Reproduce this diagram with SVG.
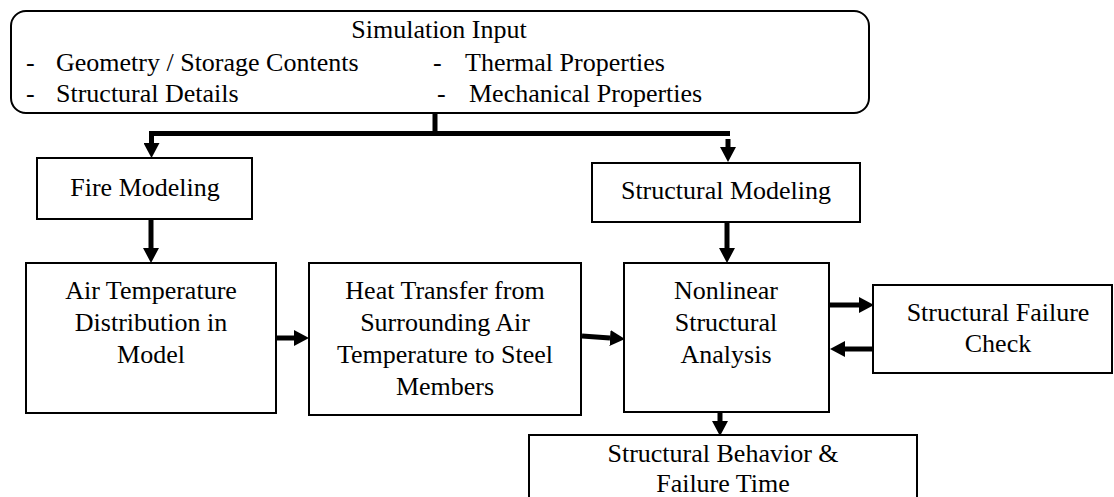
<svg xmlns="http://www.w3.org/2000/svg" width="1114" height="497" viewBox="0 0 1114 497">
<style>
.box{fill:#fff;stroke:#000;stroke-width:2}
.t{font-family:'Liberation Serif','DejaVu Serif',serif;font-size:26px;fill:#000}
.c{text-anchor:middle}
.conn{fill:none;stroke:#000;stroke-width:5}
</style>
<defs>
<marker id="ah" markerUnits="userSpaceOnUse" markerWidth="15" markerHeight="16" refX="0" refY="8" orient="auto" viewBox="0 0 15 16">
<path d="M0,0 L15,8 L0,16 z" fill="#000"/>
</marker>
</defs>
<rect width="1114" height="497" fill="#fff"/>
<g id="input" font-family="Liberation Serif, serif">
<rect class="box" x="11" y="11" width="858" height="102" rx="15" ry="15"/>
<text class="t c" x="439" y="38">Simulation Input</text>
<text class="t" x="26" y="71">-</text>
<text class="t" x="56" y="71">Geometry / Storage Contents</text>
<text class="t" x="433" y="71">-</text>
<text class="t" x="465" y="71">Thermal Properties</text>
<text class="t" x="26" y="102">-</text>
<text class="t" x="56" y="102">Structural Details</text>
<text class="t" x="437" y="102">-</text>
<text class="t" x="469" y="102">Mechanical Properties</text>
</g>
<g id="fire">
<rect class="box" x="37" y="158" width="215" height="61"/>
<text class="t c" x="145" y="196">Fire Modeling</text>
</g>
<g id="structmodel">
<rect class="box" x="592" y="163" width="268" height="59"/>
<text class="t c" x="726" y="199">Structural Modeling</text>
</g>
<g id="airtemp">
<rect class="box" x="26" y="263" width="250" height="150"/>
<text class="t c" x="151" y="299">Air Temperature</text>
<text class="t c" x="151" y="331">Distribution in</text>
<text class="t c" x="151" y="363">Model</text>
</g>
<g id="heat">
<rect class="box" x="309" y="263" width="272" height="152"/>
<text class="t c" x="445" y="299">Heat Transfer from</text>
<text class="t c" x="445" y="331">Surrounding Air</text>
<text class="t c" x="445" y="363">Temperature to Steel</text>
<text class="t c" x="445" y="395">Members</text>
</g>
<g id="nonlinear">
<rect class="box" x="624" y="263" width="205" height="149"/>
<text class="t c" x="726" y="299">Nonlinear</text>
<text class="t c" x="726" y="331">Structural</text>
<text class="t c" x="726" y="363">Analysis</text>
</g>
<g id="failurecheck">
<rect class="box" x="873" y="285" width="239" height="88"/>
<text class="t c" x="998" y="321">Structural Failure</text>
<text class="t c" x="998" y="352">Check</text>
</g>
<g id="behavior">
<rect class="box" x="529" y="435" width="388" height="80"/>
<text class="t c" x="723" y="462">Structural Behavior &amp;</text>
<text class="t c" x="723" y="492">Failure Time</text>
</g>
<g id="connectors">
<path class="conn" d="M435,113 V133.5"/>
<path class="conn" d="M730,133.5 H151.5 V143" marker-end="url(#ah)"/>
<path class="conn" d="M728,139 V147" marker-end="url(#ah)"/>
<path class="conn" d="M151,219 V248" marker-end="url(#ah)"/>
<path class="conn" d="M727,222 V248" marker-end="url(#ah)"/>
<path class="conn" d="M276,338 H294" marker-end="url(#ah)"/>
<path class="conn" d="M582,336 L610,338" marker-end="url(#ah)"/>
<path class="conn" d="M829,305 H859" marker-end="url(#ah)"/>
<path class="conn" d="M873,349 H845" marker-end="url(#ah)"/>
<path class="conn" d="M720,412 V421" marker-end="url(#ah)"/>
</g>
</svg>
